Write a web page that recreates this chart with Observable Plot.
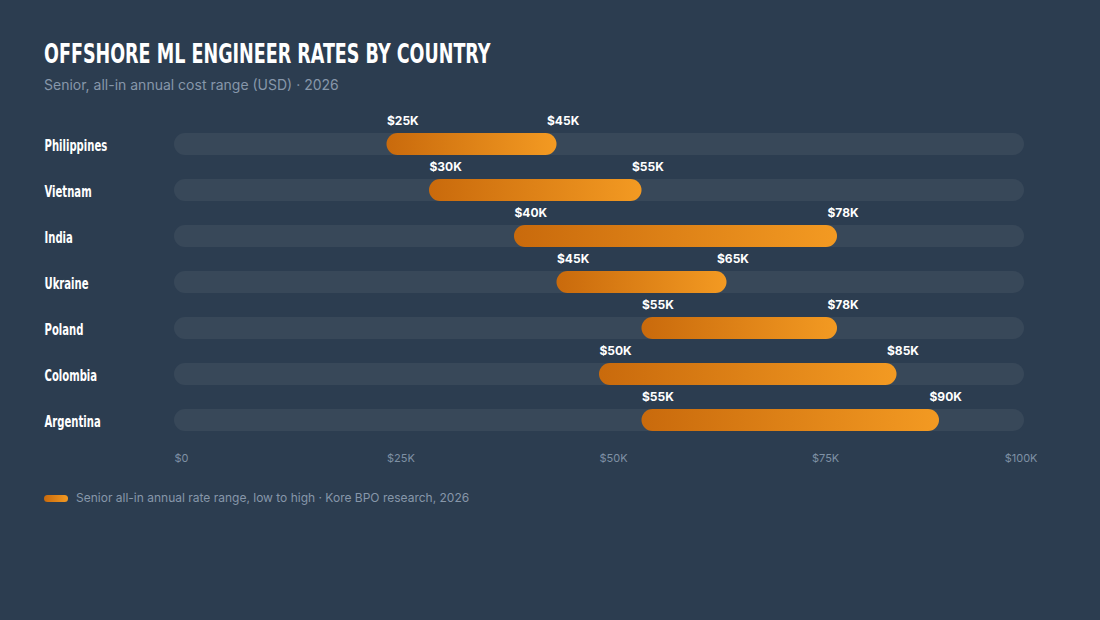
<!DOCTYPE html>
<html>
<head>
<meta charset="utf-8">
<script src="https://cdn.jsdelivr.net/npm/d3@7"></script>
<script src="https://cdn.jsdelivr.net/npm/@observablehq/plot@0.6"></script>
<style>
  html, body { margin: 0; padding: 0; background: #2c3d50; }
  body { width: 1100px; height: 620px; position: relative; overflow: hidden; font-family: Inter, "Noto Sans", sans-serif; }
  #title { position: absolute; left: 44px; top: 38px; margin: 0; font-family: "DejaVu Sans Condensed", sans-serif; font-weight: 700; font-size: 26px; line-height: 32px; color: #ffffff; white-space: nowrap; transform: scaleX(0.75); transform-origin: left center; }
  #subtitle { position: absolute; left: 44px; top: 75px; margin: 0; font-size: 14px; line-height: 20px; color: #8797aa; }
  #chart { position: absolute; left: 0; top: 100px; }
  #legend { position: absolute; left: 44px; top: 490px; display: flex; align-items: center; gap: 8px; font-size: 12px; color: #8797aa; line-height: 16px; }
  #legend .swatch { width: 24px; height: 7px; border-radius: 4px; background: linear-gradient(90deg, #c96a0c, #f39a22); }
</style>
</head>
<body>
<h1 id="title">OFFSHORE ML ENGINEER RATES BY COUNTRY</h1>
<p id="subtitle">Senior, all-in annual cost range (USD) · 2026</p>
<div id="chart"></div>
<div id="legend"><span class="swatch"></span><span>Senior all-in annual rate range, low to high · Kore BPO research, 2026</span></div>
<script>
// Senior all-in annual cost, thousands of USD
const countries = ["Philippines", "Vietnam", "India", "Ukraine", "Poland", "Colombia", "Argentina"];
const lows  = [25, 30, 40, 45, 55, 50, 55];
const highs = [45, 55, 78, 65, 78, 85, 90];
const tickValues = [0, 25, 50, 75, 100];

const rows = countries.map((country, i) => ({country, low: lows[i], high: highs[i]}));
const fmt = v => `$${v}K`;

const condensed = `"DejaVu Sans Condensed", sans-serif`;

const chart = Plot.plot({
  width: 1100,
  height: 370,
  marginLeft: 174,
  marginRight: 76,
  marginTop: 21,
  marginBottom: 27,
  style: {background: "transparent", fontFamily: "Inter, sans-serif", overflow: "visible"},
  x: {domain: [0, 100], axis: null},
  y: {domain: countries, padding: 0, axis: null},
  marks: [
    // full-width track behind each range
    Plot.barX(rows, {y: "country", x1: 0, x2: 100, fill: "#384859", insetTop: 12, insetBottom: 12, rx: 11}),
    // low-to-high range
    Plot.barX(rows, {y: "country", x1: "low", x2: "high", fill: "url(#rangeGrad)", insetTop: 12, insetBottom: 12, rx: 11}),
    // value labels above the range ends
    Plot.text(rows, {y: "country", x: "low", text: d => fmt(d.low), textAnchor: "start", dy: -23, fill: "#ffffff", fontWeight: 700, fontSize: 12}),
    Plot.text(rows, {y: "country", x: "high", text: d => fmt(d.high), textAnchor: "start", dx: -10, dy: -23, fill: "#ffffff", fontWeight: 700, fontSize: 12}),
    // country names (narrowed below to a condensed width)
    Plot.text(rows, {y: "country", text: "country", frameAnchor: "left", textAnchor: "start", dx: -130, dy: 1, fill: "#ffffff", fontWeight: 700, fontSize: 16, fontFamily: condensed, ariaDescription: "country-names"}),
    // x tick labels
    Plot.text(tickValues.slice(0, -1), {x: d => d, text: d => d === 0 ? "$0" : fmt(d), frameAnchor: "bottom", textAnchor: "start", dy: 18, fill: "#7f91a5", fontSize: 11}),
    Plot.text(tickValues.slice(-1), {x: d => d, text: d => fmt(d), frameAnchor: "bottom", textAnchor: "end", dx: 13, dy: 18, fill: "#7f91a5", fontSize: 11})
  ]
});

// horizontal gradient shared by the range bars
const defs = d3.select(chart).insert("defs", ":first-child");
const grad = defs.append("linearGradient").attr("id", "rangeGrad").attr("x1", "0%").attr("x2", "100%").attr("y1", "0%").attr("y2", "0%");
grad.append("stop").attr("offset", "0%").attr("stop-color", "#c96a0c");
grad.append("stop").attr("offset", "100%").attr("stop-color", "#f39a22");

// squeeze the country names horizontally around their anchor point
d3.select(chart).selectAll('g[aria-description="country-names"] text').each(function() {
  const el = d3.select(this);
  const t = el.attr("transform");
  if (t) {
    el.attr("transform", `${t} scale(0.7,1)`);
  } else {
    const x = +el.attr("x") || 0, y = +el.attr("y") || 0;
    el.attr("x", null).attr("y", null).attr("transform", `translate(${x},${y}) scale(0.7,1)`);
  }
});

document.getElementById("chart").appendChild(chart);
</script>
</body>
</html>
